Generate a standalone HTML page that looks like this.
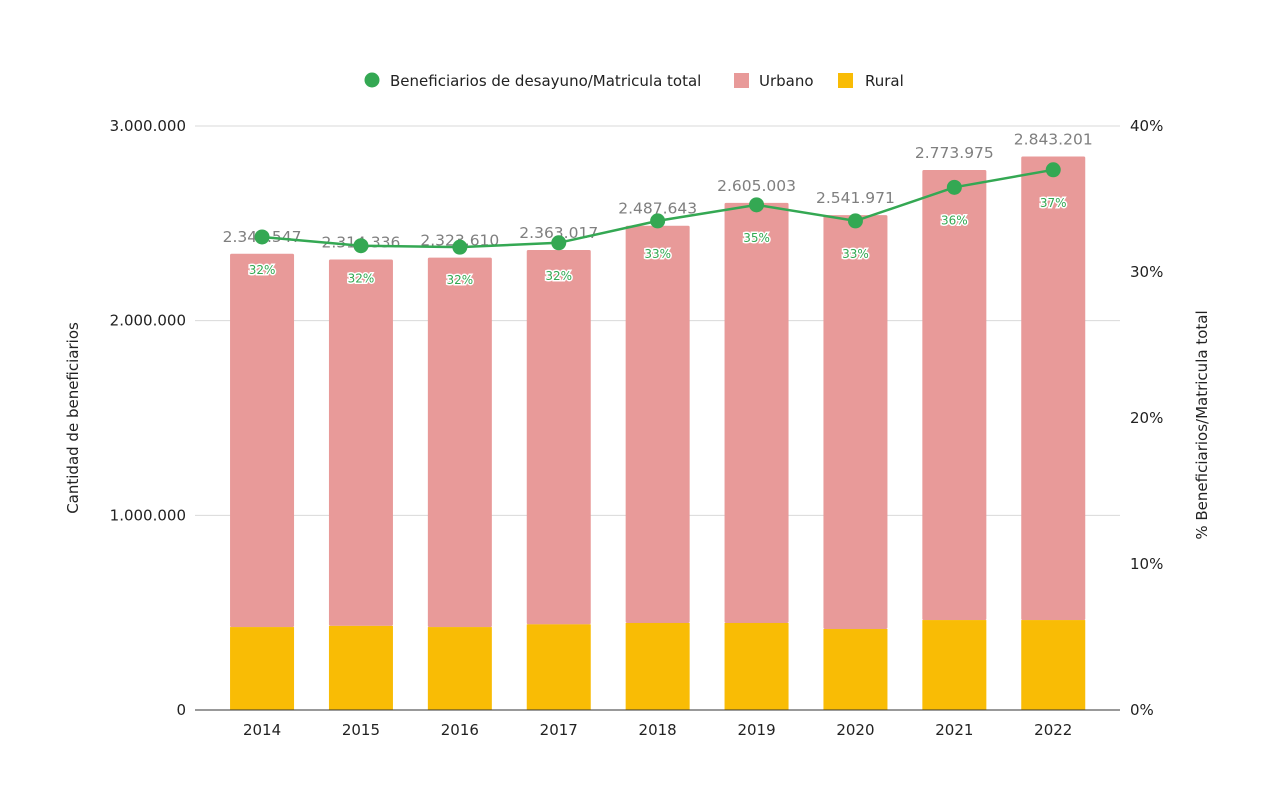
<!DOCTYPE html>
<html><head><meta charset="utf-8"><style>
body{margin:0;background:#fff;}
svg text{font-family:"DejaVu Sans","Liberation Sans",sans-serif;}
</style></head><body>
<svg id="chart" width="1284" height="780">
<g id="legend">
<g><circle cx="372" cy="80" r="7.5" fill="#34a853"/><text x="390" y="86" font-size="15" fill="#222">Beneficiarios de desayuno/Matricula total</text></g>
<g><rect x="734" y="73" width="15" height="15" fill="#e89a99"/><text x="759" y="86" font-size="15" fill="#222">Urbano</text></g>
<g><rect x="838" y="73" width="15" height="15" fill="#f9bc05"/><text x="865" y="86" font-size="15" fill="#222">Rural</text></g>
</g>
<text transform="translate(78,418) rotate(-90)" text-anchor="middle" font-size="15" fill="#222">Cantidad de beneficiarios</text>
<text transform="translate(1207,425) rotate(-90)" text-anchor="middle" font-size="15" fill="#222">% Beneficiarios/Matricula total</text>
</svg>
<script>
const categories=["2014","2015","2016","2017","2018","2019","2020","2021","2022"];
const totals=[2343547,2314336,2323610,2363017,2487643,2605003,2541971,2773975,2843201];
const rural=[426000,432000,426000,440000,447000,447000,416000,462000,462000];
const ratio=[32.4,31.8,31.7,32.0,33.5,34.6,33.5,35.8,37.0];
const ratioLabels=["32%","32%","32%","32%","33%","35%","33%","36%","37%"];
const totalLabels=["2.343.547","2.314.336","2.323.610","2.363.017","2.487.643","2.605.003","2.541.971","2.773.975","2.843.201"];
const leftTicks=[0,1000000,2000000,3000000];
const leftTickLabels=["0","1.000.000","2.000.000","3.000.000"];
const rightTicks=[0,10,20,30,40];
const rightTickLabels=["0%","10%","20%","30%","40%"];
const NS="http://www.w3.org/2000/svg";
const svg=document.getElementById('chart');
const y0=710,yTop=126,plotL=195,plotR=1120,bandStart=212.6,band=98.9,bw=64;
const y=v=>y0-(v/3000000)*(y0-yTop);
const y2=p=>y0-(p/40)*(y0-yTop);
const xc=i=>bandStart+band*(i+0.5);
function mk(tag,attrs,parent){const e=document.createElementNS(NS,tag);for(const k in attrs)e.setAttribute(k,attrs[k]);(parent||svg).appendChild(e);return e;}
leftTicks.forEach((t,i)=>{
 if(t>0){const l=mk('line',{x1:plotL,x2:plotR,y1:y(t),y2:y(t),stroke:'#d9d9d9','stroke-width':1});
 
 }
 const tx=mk('text',{x:186,y:y(t)+5,'text-anchor':'end','font-size':15,fill:'#222'});tx.textContent=leftTickLabels[i];
 
 
});
rightTicks.forEach((t,i)=>{
 const tx=mk('text',{x:1130,y:y2(t)+5,'font-size':15,fill:'#222'});tx.textContent=rightTickLabels[i];
 
 
});
categories.forEach((c,i)=>{
 const x=xc(i)-bw/2;
 const u=mk('rect',{x:x,y:y(totals[i]),width:bw,height:y(rural[i])-y(totals[i]),fill:'#e89a99',rx:1.5});
 
 
 const r=mk('rect',{x:x,y:y(rural[i]),width:bw,height:y0-y(rural[i]),fill:'#f9bc05'});
 
 
 const t=mk('text',{x:xc(i),y:y(totals[i])-12,'text-anchor':'middle','font-size':15.5,fill:'#7f7f7f'});t.textContent=totalLabels[i];
 
 
 const xl=mk('text',{x:xc(i),y:735,'text-anchor':'middle','font-size':15,fill:'#222'});xl.textContent=c;
 
 
});
const ax=mk('line',{x1:plotL,x2:plotR,y1:y0,y2:y0,stroke:'#333','stroke-width':1});


const pl=mk('polyline',{points:ratio.map((p,i)=>xc(i)+','+y2(p)).join(' '),fill:'none',stroke:'#34a853','stroke-width':2.5});


ratio.forEach((p,i)=>{
 const c=mk('circle',{cx:xc(i),cy:y2(p),r:7.5,fill:'#34a853'});
 
 
 const t=mk('text',{x:xc(i),y:y2(p)+37,'text-anchor':'middle','font-size':12,fill:'#34a853',stroke:'#fff','stroke-width':3,'paint-order':'stroke'});t.textContent=ratioLabels[i];
 
 
});
</script>
</body></html>
